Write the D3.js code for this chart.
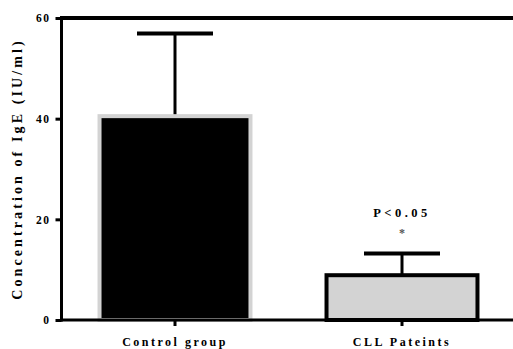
<!DOCTYPE html>
<html><head><meta charset="utf-8">
<script src="https://cdn.jsdelivr.net/npm/d3@7"></script>
<style>body{margin:0;background:#fff;} svg{display:block;}</style>
</head><body>
<svg id="c" width="513" height="349"></svg>
<script>
const categories = ["Control group", "CLL Pateints"];
const means = [40.5, 8.9];
const errors = [16.4, 4.3];
const yTicks = [0, 20, 40, 60];
const yTitle = "Concentration of IgE (IU/ml)";
const sigLabel = "P<0.05";
const sigMark = "*";

const svg = d3.select("#c");
const font = "'Liberation Serif','Times New Roman',serif";
const y = d3.scaleLinear().domain([0, 60]).range([320, 18]);
const x = d3.scaleBand().domain(categories).range([61.5, 515.5]).paddingInner(0.335).paddingOuter(0.1675);

const fills = ["#000000", "#d3d3d3"];
const strokes = ["#d3d3d3", "#000000"];

// error bars
categories.forEach((c, i) => {
  const cx = x(c) + x.bandwidth() / 2;
  svg.append("line").attr("x1", cx).attr("x2", cx).attr("y1", y(means[i])).attr("y2", y(means[i] + errors[i]))
    .attr("stroke", "#000").attr("stroke-width", 3);
  svg.append("line").attr("x1", cx - 38).attr("x2", cx + 38).attr("y1", y(means[i] + errors[i])).attr("y2", y(means[i] + errors[i]))
    .attr("stroke", "#000").attr("stroke-width", 4);
});

svg.selectAll("rect.bar").data(categories).enter().append("rect")
  .attr("class", "bar")
  .attr("x", d => x(d)).attr("width", x.bandwidth())
  .attr("y", (d, i) => y(means[i])).attr("height", (d, i) => y(0) - y(means[i]))
  .attr("fill", (d, i) => fills[i]).attr("stroke", (d, i) => strokes[i]).attr("stroke-width", 4);

// top line
svg.append("line").attr("x1", 60).attr("x2", 513).attr("y1", y(60)).attr("y2", y(60)).attr("stroke", "#000").attr("stroke-width", 4);

// y axis
const yAxis = svg.append("g").attr("transform", "translate(61.5,0)")
  .call(d3.axisLeft(y).tickValues(yTicks).tickSize(6).tickPadding(5).tickFormat(d3.format("d")));
yAxis.select(".domain").attr("stroke", "#000").attr("stroke-width", 3).attr("d", `M0,${y(60)-1}V${y(0)+1.5}`);
yAxis.selectAll(".tick line").attr("stroke", "#000").attr("stroke-width", 3);
yAxis.selectAll(".tick text").attr("font-family", font).attr("font-weight", "bold").attr("font-size", 11.5)
  .attr("letter-spacing", "1.5px").attr("fill", "#000");

// x axis
const xAxis = svg.append("g").attr("transform", "translate(0,320)")
  .call(d3.axisBottom(x).tickSize(6).tickPadding(11));
xAxis.select(".domain").attr("stroke", "#000").attr("stroke-width", 3).attr("d", "M60,0H513");
xAxis.selectAll(".tick line").attr("stroke", "#000").attr("stroke-width", 3);
xAxis.selectAll(".tick text").attr("font-family", font).attr("font-weight", "bold").attr("font-size", 12)
  .attr("letter-spacing", "2.5px").attr("fill", "#000");

// y title
svg.append("text").attr("transform", `translate(22,${169}) rotate(-90)`).attr("text-anchor", "middle")
  .attr("font-family", font).attr("font-weight", "bold").attr("font-size", 14).attr("letter-spacing", "3.1px")
  .text(yTitle);

// significance
const c2 = x(categories[1]) + x.bandwidth() / 2;
svg.append("text").attr("x", c2).attr("y", 217).attr("text-anchor", "middle")
  .attr("font-family", font).attr("font-weight", "bold").attr("font-size", 12.5).attr("letter-spacing", "3.5px").text(sigLabel);
svg.append("text").attr("x", c2).attr("y", 237).attr("text-anchor", "middle")
  .attr("font-family", font).attr("font-weight", "bold").attr("font-size", 12).attr("fill", "#555").text(sigMark);
</script>
</body></html>
